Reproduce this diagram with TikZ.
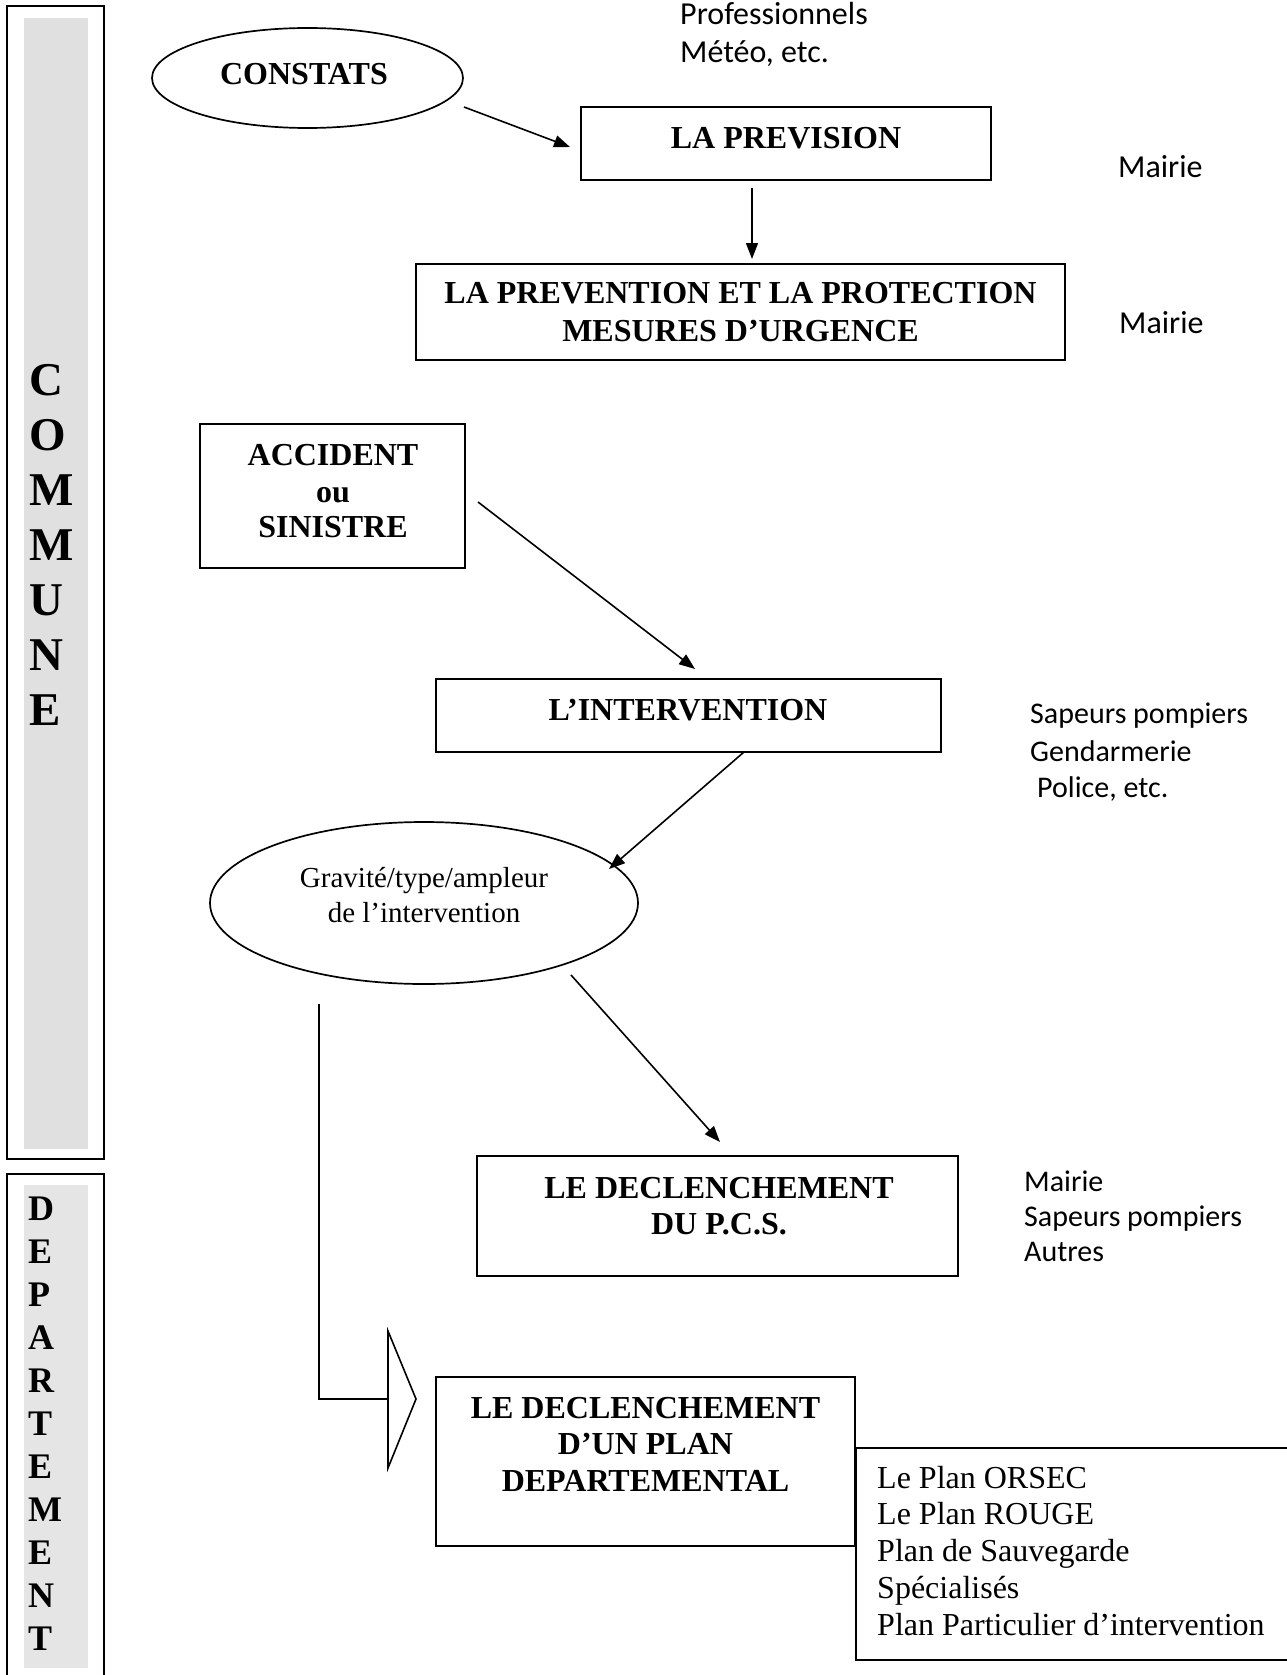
\documentclass[tikz,border=0pt]{standalone}
\usepackage{fontspec}
\setmainfont{Liberation Serif}
\newfontfamily\carl{Carlito}
\usetikzlibrary{arrows.meta,shapes.geometric}
\definecolor{gA}{RGB}{224,224,224}
\definecolor{gB}{RGB}{229,229,229}
\begin{document}
\begin{tikzpicture}[x=1pt,y=-1pt,
  box/.style={draw, line width=2pt, inner sep=0pt, rectangle},
  oval/.style={draw, line width=1.7pt, inner sep=0pt, ellipse},
  hd/.style={font=\bfseries\fontsize{32}{36}\selectfont, anchor=base, inner sep=0pt},
  rg/.style={font=\fontsize{32}{36}\selectfont, anchor=base west, inner sep=0pt},
  gv/.style={font=\fontsize{29}{36}\selectfont, anchor=base, inner sep=0pt},
  lab/.style={font=\carl\fontsize{30}{36}\selectfont, anchor=base west, inner sep=0pt},
  labbig/.style={font=\carl\fontsize{32}{38}\selectfont, anchor=base west, inner sep=0pt},
  vl/.style={font=\bfseries\fontsize{47}{55}\selectfont, anchor=base west, inner sep=0pt},
  vd/.style={font=\bfseries\fontsize{36}{43}\selectfont, anchor=base west, inner sep=0pt},
  arr/.style={line width=1.6pt, -{Triangle[length=16pt,width=12pt]}},
]
\useasboundingbox (0,0) rectangle (1287,1675);

% side bands
\node[box, minimum width=97pt, minimum height=1153pt] (commune) at (55.5,582.5) {};
\node[fill=gA, inner sep=0pt, minimum width=64pt, minimum height=1131pt] (communeg) at (56,583.5) {};
\node[box, minimum width=97pt, minimum height=526pt] (dept) at (55.5,1437) {};
\node[fill=gB, inner sep=0pt, minimum width=64pt, minimum height=483pt] (deptg) at (56,1426.5) {};
\foreach \l [count=\i from 0] in {C,O,M,M,U,N,E}
  \node[vl] (c\i) at (29,395+55*\i) {\l};
\foreach \l [count=\i from 0] in {D,E,P,A,R,T,E,M,E,N,T}
  \node[vd] (d\i) at (28,1220+43*\i) {\l};

% shapes
\node[oval, minimum width=311pt, minimum height=100pt] (constats) at (307.5,78) {};
\node[hd] (tconstats) at (304,85) {CONSTATS};

\node[box, minimum width=410pt, minimum height=73pt] (prev) at (786,143.5) {};
\node[hd] (tprev) at (786,148) {LA PREVISION};

\node[box, minimum width=649pt, minimum height=96pt] (prot) at (740.5,312) {};
\node[hd] (tprot1) at (740.5,303) {LA PREVENTION ET LA PROTECTION};
\node[hd] (tprot2) at (740.5,341) {MESURES D’URGENCE};

\node[box, minimum width=265pt, minimum height=144pt] (acc) at (332.5,496) {};
\node[hd] (tacc1) at (333,465) {ACCIDENT};
\node[hd] (tacc2) at (333,502) {ou};
\node[hd] (tacc3) at (333,537) {SINISTRE};

\node[box, minimum width=505pt, minimum height=73pt] (interv) at (688.5,715.5) {};
\node[hd] (tinterv) at (688,720) {L’INTERVENTION};

\node[oval, minimum width=428pt, minimum height=162pt] (grav) at (424,903) {};
\node[gv] (tgrav1) at (424,887) {Gravité/type/ampleur};
\node[gv] (tgrav2) at (424,922) {de l’intervention};

\node[box, minimum width=481pt, minimum height=120pt] (pcs) at (717.5,1216) {};
\node[hd] (tpcs1) at (719,1198) {LE DECLENCHEMENT};
\node[hd] (tpcs2) at (719,1234) {DU P.C.S.};

\node[box, minimum width=419pt, minimum height=169pt] (dep) at (645.5,1461.5) {};
\node[hd] (tdep1) at (645.5,1418) {LE DECLENCHEMENT};
\node[hd] (tdep2) at (645.5,1454) {D’UN PLAN};
\node[hd] (tdep3) at (645.5,1491) {DEPARTEMENTAL};

\node[box, minimum width=480pt, minimum height=212pt] (plans) at (1096,1554) {};
\node[rg] (pl1) at (877,1488) {Le Plan ORSEC};
\node[rg] (pl2) at (877,1524.75) {Le Plan ROUGE};
\node[rg] (pl3) at (877,1561.5) {Plan de Sauvegarde};
\node[rg] (pl4) at (877,1598.25) {Spécialisés};
\node[rg] (pl5) at (877,1635) {Plan Particulier d’intervention};

% side labels
\node[labbig] (l1) at (680,25) {Professionnels};
\node[labbig] (l2) at (680,63) {Météo, etc.};
\node[labbig] (l3) at (1118,177) {Mairie};
\node[labbig] (l4) at (1119,333) {Mairie};
\node[lab] (l5) at (1030,723) {Sapeurs pompiers};
\node[lab] (l6) at (1030,761) {Gendarmerie};
\node[lab] (l7) at (1037,797) {Police, etc.};
\node[lab] (l8) at (1024,1191) {Mairie};
\node[lab] (l9) at (1024,1226) {Sapeurs pompiers};
\node[lab] (l10) at (1024,1261) {Autres};

% connectors
\coordinate (a1s) at (464,107);  \coordinate (a1e) at (570,147);
\coordinate (a2s) at (752,188);  \coordinate (a2e) at (752,259);
\coordinate (a3s) at (478,502);  \coordinate (a3e) at (695,669);
\coordinate (a4s) at (744,752);  \coordinate (a4e) at (609,869);
\coordinate (a5s) at (571,975);  \coordinate (a5e) at (720,1142);
\draw[arr] (a1s) -- (a1e);
\draw[arr] (a2s) -- (a2e);
\draw[arr] (a3s) -- (a3e);
\draw[arr] (a4s) -- (a4e);
\draw[arr] (a5s) -- (a5e);

\coordinate (g1) at (319,1004);
\coordinate (g2) at (388,1399);
\coordinate (t1) at (388,1331);
\coordinate (t2) at (416,1399);
\coordinate (t3) at (388,1468);
\draw[line width=2.4pt] (g1) |- (g2);
\draw[line width=1.6pt, line join=miter] (t1) -- (t2) -- (t3) -- cycle;
\end{tikzpicture}
\end{document}
